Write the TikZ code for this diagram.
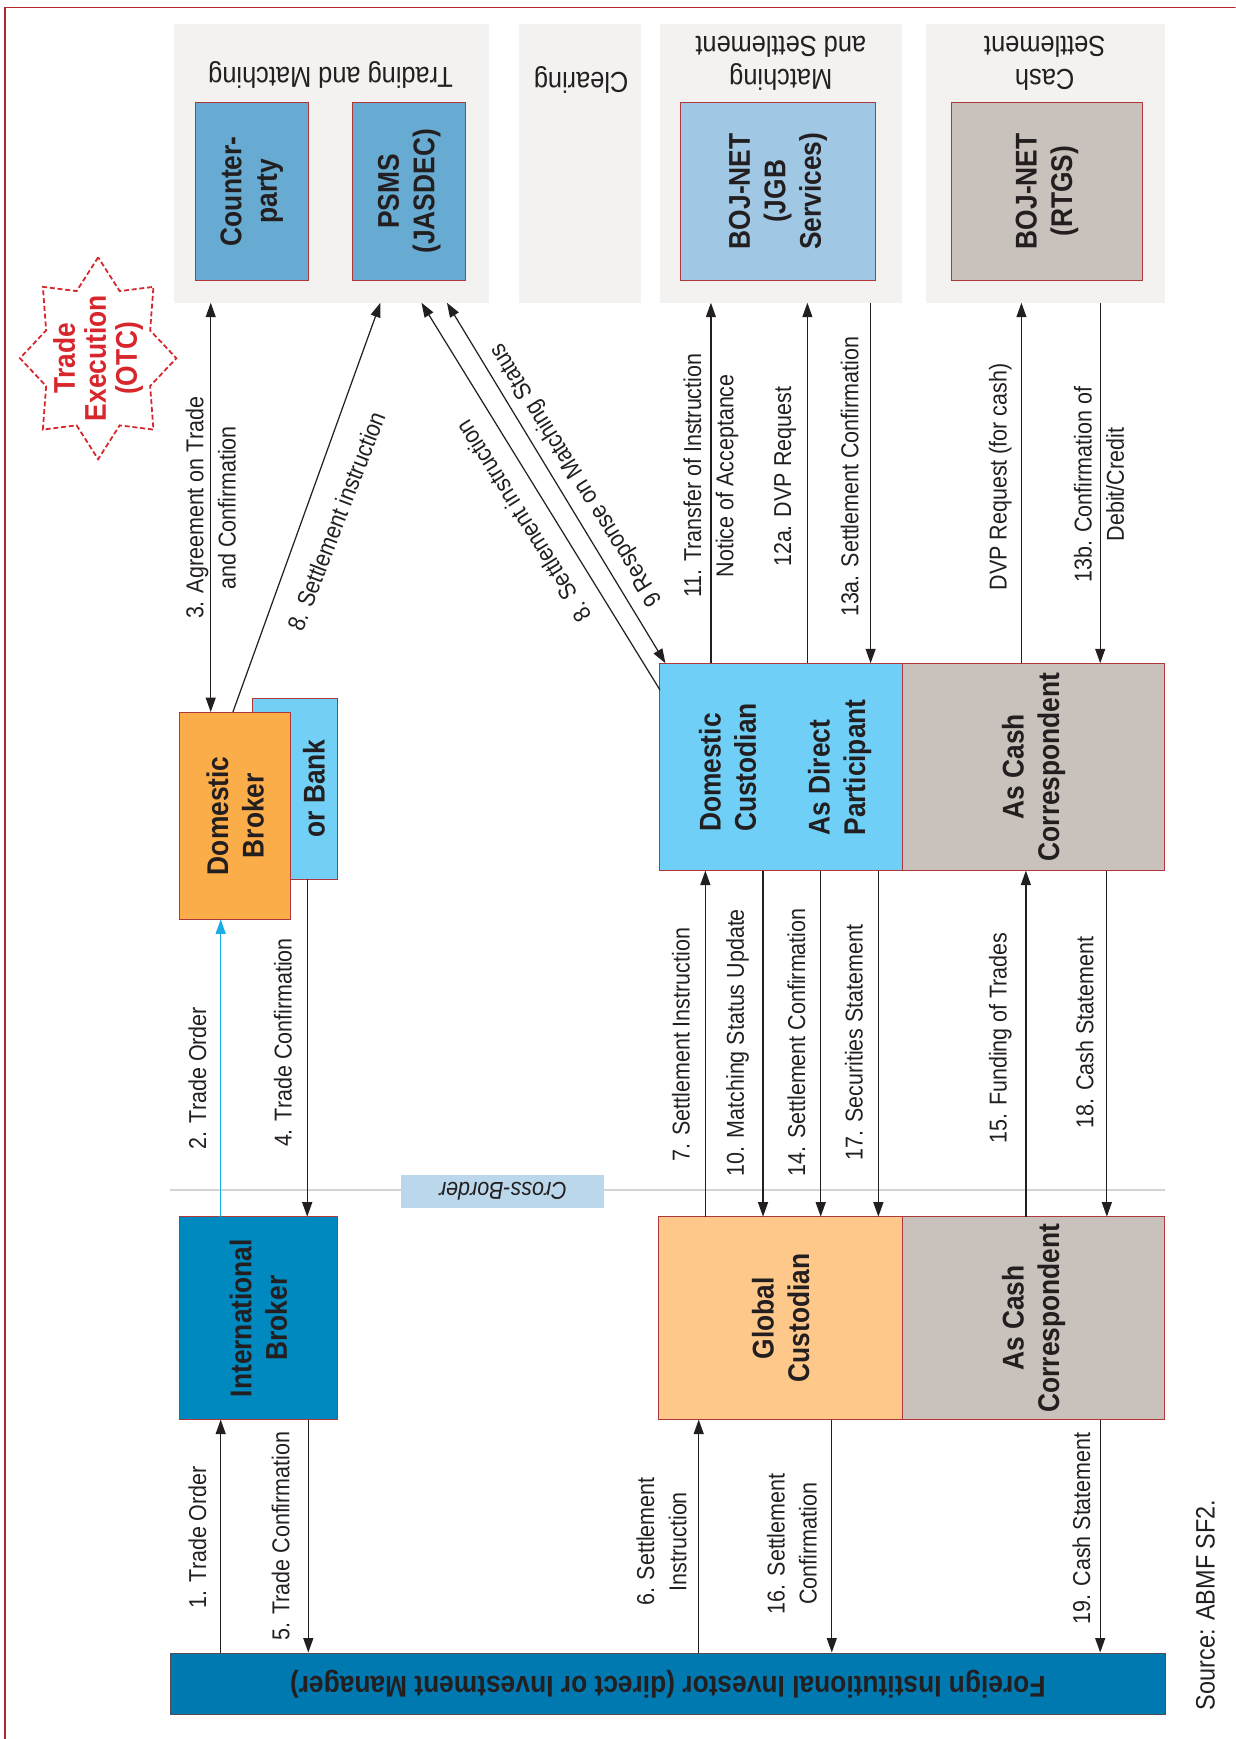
\documentclass[tikz,border=0pt]{standalone}
\usepackage{fontspec}
\setmainfont{Liberation Sans}[FakeStretch=0.88]
\newfontfamily\lf{Liberation Sans}[FakeStretch=0.88]
\usetikzlibrary{arrows.meta}
\definecolor{ink}{HTML}{231F20}
\definecolor{framered}{HTML}{B3282D}
\definecolor{boxred}{HTML}{B0373A}
\definecolor{panelgrey}{HTML}{F3F2F0}
\definecolor{cpblue}{HTML}{67ABD2}
\definecolor{jgbblue}{HTML}{A0C8E4}
\definecolor{cashgrey}{HTML}{C9C1BB}
\definecolor{dborange}{HTML}{FBAD4A}
\definecolor{bankblue}{HTML}{72CFF6}
\definecolor{ibblue}{HTML}{0089BE}
\definecolor{dcblue}{HTML}{6FCFF6}
\definecolor{gcorange}{HTML}{FEC88A}
\definecolor{invblue}{HTML}{0079B1}
\definecolor{cbblue}{HTML}{BBD7EB}
\definecolor{cbline}{HTML}{D4D4D4}
\definecolor{cyanarrow}{HTML}{1AADE4}
\definecolor{starred}{HTML}{D7262C}
\tikzset{
  panel/.style={fill=panelgrey, anchor=north west, inner sep=0pt, outer sep=0pt},
  box/.style={draw=boxred, line width=0.9pt, anchor=north west, inner sep=0pt, outer sep=0pt},
  boxtxt/.style={rotate=90, align=center, text=ink, inner sep=0pt, font=\lf\bfseries\fontsize{27}{32}\selectfont},
  titletxt/.style={rotate=180, align=center, text=ink, inner sep=0pt, font=\lf\fontsize{26}{30}\selectfont},
  lab/.style={rotate=90, align=center, text=ink, inner sep=0pt, font=\lf\fontsize{22}{29}\selectfont},
  slab/.style={align=center, text=ink, inner sep=0pt, font=\lf\fontsize{22}{29}\selectfont},
  arr/.style={draw=ink, line width=1.1pt, -{Triangle[length=13pt,width=9pt]}},
  darr/.style={draw=ink, line width=1.1pt, {Triangle[length=13pt,width=9pt]}-{Triangle[length=13pt,width=9pt]}},
  carr/.style={draw=cyanarrow, line width=1.1pt, -{Triangle[length=13pt,width=9pt]}},
  stardash/.style={draw=starred, line width=1.6pt, dash pattern=on 4.5pt off 2.5pt},
}
\begin{document}
\begin{tikzpicture}[x=1pt,y=-1pt]
\useasboundingbox (0,0) rectangle (1114,1568);
\clip (0,0) rectangle (1114,1568);
\draw[draw=framered, line width=1pt] (4.5,7) rectangle (1140,1600);

% panels
\node[panel, minimum width=284pt, minimum height=251pt] (p1) at (157,22) {};
\node[panel, minimum width=110pt, minimum height=251pt] (p2) at (468,22) {};
\node[panel, minimum width=218pt, minimum height=251pt] (p3) at (595,22) {};
\node[panel, minimum width=215pt, minimum height=251pt] (p4) at (835,22) {};
\node[titletxt] (t1) at (298,68) {Trading and Matching};
\node[titletxt] (t2) at (524,72) {Clearing};
\node[titletxt] (t3) at (704,57) {Matching\\and Settlement};
\node[titletxt] (t4) at (942,57) {Cash\\Settlement};

% system boxes
\node[box, fill=cpblue, minimum width=102pt, minimum height=161pt] (cp) at (176,92) {};
\node[boxtxt] at (cp.center) {Counter-\\party};
\node[box, fill=cpblue, minimum width=102pt, minimum height=161pt] (psms) at (318,92) {};
\node[boxtxt] at (psms.center) {PSMS\\(JASDEC)};
\node[box, fill=jgbblue, minimum width=175pt, minimum height=161pt] (jgb) at (614,92) {};
\node[boxtxt] at (jgb.center) {BOJ-NET\\(JGB\\Services)};
\node[box, fill=cashgrey, minimum width=172pt, minimum height=161pt] (rtgs) at (858,92) {};
\node[boxtxt] at (rtgs.center) {BOJ-NET\\(RTGS)};

% star
\draw[stardash] (88.5,232) \foreach \k in {1,...,15} { -- ({88.5+70.5*(0.86+0.14*cos(180*\k))*cos(90+22.5*\k)}, {323-91*(0.86+0.14*cos(180*\k))*sin(90+22.5*\k)}) } -- cycle;
\node[rotate=90, align=center, text=starred, inner sep=0pt, font=\lf\bfseries\fontsize{27}{28}\selectfont] (otc) at (88.5,323) {Trade\\Execution\\(OTC)};

% brokers
\node[box, fill=bankblue, minimum width=76pt, minimum height=163pt] (bank) at (228,630) {};
\node[boxtxt] at (283,711) {or Bank};
\node[box, fill=dborange, minimum width=100pt, minimum height=187pt] (db) at (162,642) {};
\node[boxtxt] at (db.center) {Domestic\\Broker};
\node[box, fill=ibblue, minimum width=142pt, minimum height=183pt] (ib) at (162,1097) {};
\node[boxtxt] at (ib.center) {International\\Broker};

% custodians
\node[box, fill=dcblue, minimum width=219pt, minimum height=187pt] (dc) at (595,598) {};
\node[boxtxt, align=left] at (656,692) {Domestic\\Custodian};
\node[boxtxt, align=left] at (757,692) {As Direct\\Participant};
\node[box, fill=cashgrey, minimum width=236pt, minimum height=187pt] (dcc) at (814,598) {};
\node[boxtxt] at (dcc.center) {As Cash\\Correspondent};
\node[box, fill=gcorange, minimum width=220pt, minimum height=183pt] (gc) at (594,1097) {};
\node[boxtxt] at (gc.center) {Global\\Custodian};
\node[box, fill=cashgrey, minimum width=236pt, minimum height=183pt] (gcc) at (814,1097) {};
\node[boxtxt] at (gcc.center) {As Cash\\Correspondent};

% investor
\node[draw=ink!80, line width=1.2pt, fill=invblue, anchor=north west, inner sep=0pt, minimum width=897pt, minimum height=55pt] (inv) at (153,1490) {};
\node[rotate=180, text=ink, inner sep=0pt, font=\lf\bfseries\fontsize{27}{32}\selectfont] at (inv.center) {Foreign Institutional Investor (direct or Investment Manager)};

% cross-border
\draw[cbline, line width=2.5pt] (153,1073) -- (1050,1073);
\node[fill=cbblue, minimum width=183pt, minimum height=30pt, inner sep=0pt, text=ink, font=\lf\itshape\fontsize{22}{26}\selectfont, rotate=180] (cb) at (453.5,1074) {Cross-Border};

% source
\node[rotate=90, text=ink, inner sep=0pt, font=\lf\fontsize{24}{28}\selectfont] (src) at (1087,1447) {Source: ABMF SF2.};

% x positions of vertical connectors
\coordinate (x3) at (190,0);
\coordinate (x11) at (641,0);
\coordinate (x12) at (728,0);
\coordinate (x13a) at (785,0);
\coordinate (xdvp) at (921,0);
\coordinate (x13b) at (992,0);
\coordinate (x2) at (199,0);
\coordinate (x4) at (277,0);
\coordinate (x7) at (636,0);
\coordinate (x10) at (688,0);
\coordinate (x14) at (740,0);
\coordinate (x17) at (792,0);
\coordinate (x15) at (925,0);
\coordinate (x18) at (998,0);
\coordinate (x1) at (199,0);
\coordinate (x5) at (278,0);
\coordinate (x6) at (630,0);
\coordinate (x16) at (750,0);
\coordinate (x19) at (992,0);
\coordinate (s8a) at (210,0);
\coordinate (e8a) at (343,0);
\coordinate (e8b) at (380,0);
\coordinate (e9) at (403,0);

% upper connectors
\draw[darr] (p1.south -| x3) -- (db.north -| x3);
\draw[arr] (db.north -| s8a) -- (p1.south -| e8a);
\draw[arr] ([yshift=-24pt]dc.north west) -- (p1.south -| e8b);
\draw[darr] (p1.south -| e9) -- ([xshift=5pt]dc.north west);
\draw[arr] (dc.north -| x11) -- (p3.south -| x11);
\draw[arr] (dc.north -| x12) -- (p3.south -| x12);
\draw[arr] (p3.south -| x13a) -- (dc.north -| x13a);
\draw[arr] (dcc.north -| xdvp) -- (p4.south -| xdvp);
\draw[arr] (p4.south -| x13b) -- (dcc.north -| x13b);

\node[lab] at (190,458) {3. Agreement on Trade\\and Confirmation};
\node[slab, rotate=69] at (303,470) {8. Settlement instruction};
\node[slab, rotate=122] at (472,470) {8. Settlement instruction};
\node[slab, rotate=122] at (520,428) {9 Response on Matching Status};
\node[lab] at (641,429) {11. Transfer of Instruction\\Notice of Acceptance};
\node[lab] at (708,430) {12a. DVP Request};
\node[lab] at (766,430) {13a. Settlement Confirmation};
\node[lab] at (902,430) {DVP Request (for cash)};
\node[lab] at (991,437) {13b. Confirmation of\\Debit/Credit};

% middle connectors
\draw[carr] (ib.north -| x2) -- (db.south -| x2);
\draw[arr] (bank.south -| x4) -- (ib.north -| x4);
\draw[arr] (gc.north -| x7) -- (dc.south -| x7);
\draw[arr] (dc.south -| x10) -- (gc.north -| x10);
\draw[arr] (dc.south -| x14) -- (gc.north -| x14);
\draw[arr] (dc.south -| x17) -- (gc.north -| x17);
\draw[arr] (gcc.north -| x15) -- (dcc.south -| x15);
\draw[arr] (dcc.south -| x18) -- (gcc.north -| x18);

\node[lab] at (178,972) {2. Trade Order};
\node[lab] at (255,940) {4. Trade Confirmation};
\node[lab] at (614,942) {7. Settlement Instruction};
\node[lab] at (665,940) {10. Matching Status Update};
\node[lab] at (718,940) {14. Settlement Confirmation};
\node[lab] at (770,940) {17. Securities Statement};
\node[lab] at (902,936) {15. Funding of Trades};
\node[lab] at (978,931) {18. Cash Statement};

% lower connectors
\draw[arr] (inv.north -| x1) -- (ib.south -| x1);
\draw[arr] (ib.south -| x5) -- (inv.north -| x5);
\draw[arr] (inv.north -| x6) -- (gc.south -| x6);
\draw[arr] (gc.south -| x16) -- (inv.north -| x16);
\draw[arr] (gcc.south -| x19) -- (inv.north -| x19);

\node[lab] at (178,1386) {1. Trade Order};
\node[lab] at (253,1385) {5. Trade Confirmation};
\node[lab] at (596.5,1390) {6. Settlement\\Instruction};
\node[lab] at (714,1392) {16. Settlement\\Confirmation};
\node[lab] at (975,1378) {19. Cash Statement};
\end{tikzpicture}
\end{document}
